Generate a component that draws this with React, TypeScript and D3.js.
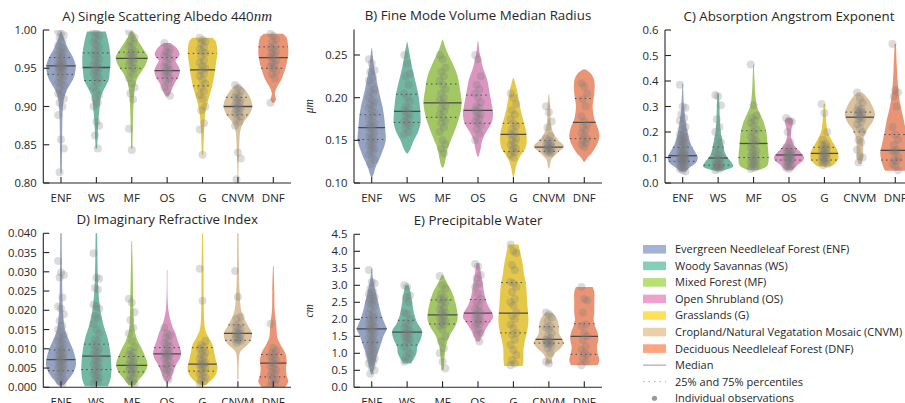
import React from "react";
import * as d3 from "d3";

// ---------------- data ----------------
const CATEGORIES = ["ENF", "WS", "MF", "OS", "G", "CNVM", "DNF"];
const VIOLIN_COLORS = ["#95a3c3", "#71b7a1", "#a2c764", "#db96c0", "#e5c849", "#dbc29e", "#e99575"];
const LEGEND_COLORS = ["#8da0cb", "#66c2a5", "#a6d854", "#e78ac3", "#ffd92f", "#e5c494", "#fc8d62"];
const LEGEND_LABELS = [
  "Evergreen Needleleaf Forest (ENF)",
  "Woody Savannas (WS)",
  "Mixed Forest (MF)",
  "Open Shrubland (OS)",
  "Grasslands (G)",
  "Cropland/Natural Vegatation Mosaic (CNVM)",
  "Deciduous Needleleaf Forest (DNF)",
];
const LEGEND_EXTRA = ["Median", "25% and 75% percentiles", "Individual observations"];

// A) Single Scattering Albedo 440nm
const A_TICKS = [0.8, 0.85, 0.9, 0.95, 1.0];
const A_MEDIAN = [0.953, 0.951, 0.963, 0.947, 0.948, 0.9, 0.964];
const A_Q1 = [0.942, 0.934, 0.95, 0.937, 0.927, 0.889, 0.95];
const A_Q3 = [0.964, 0.97, 0.971, 0.964, 0.9695, 0.912, 0.978];
const A_PROFILES = [
  [[0.998, 1], [0.99, 8], [0.975, 22], [0.965, 35], [0.953, 44], [0.94, 40], [0.93, 29], [0.92, 16], [0.91, 9], [0.9, 6], [0.88, 4], [0.86, 3.5], [0.84, 3], [0.82, 2.5], [0.812, 1.5]],
  [[0.998, 28], [0.99, 33], [0.98, 38], [0.965, 42], [0.955, 42], [0.945, 40], [0.935, 37], [0.925, 26], [0.915, 15], [0.9, 10], [0.88, 6], [0.86, 4], [0.845, 2]],
  [[0.998, 3], [0.992, 10], [0.985, 20], [0.975, 35], [0.965, 48], [0.955, 42], [0.945, 28], [0.935, 15], [0.92, 8], [0.9, 5], [0.87, 3], [0.845, 2]],
  [[0.983, 10], [0.978, 25], [0.972, 35], [0.967, 37], [0.96, 25], [0.954, 32], [0.948, 38], [0.94, 35], [0.93, 22], [0.922, 14], [0.913, 4]],
  [[0.99, 30], [0.985, 40], [0.97, 44], [0.955, 40], [0.94, 35], [0.925, 28], [0.91, 18], [0.895, 10], [0.88, 6], [0.86, 4], [0.837, 2]],
  [[0.928, 3], [0.925, 15], [0.92, 25], [0.91, 38], [0.9, 43], [0.89, 35], [0.88, 18], [0.87, 8], [0.86, 5], [0.85, 4], [0.835, 3], [0.82, 2], [0.805, 1]],
  [[0.995, 28], [0.99, 40], [0.98, 44], [0.97, 45], [0.96, 42], [0.948, 35], [0.935, 24], [0.926, 12], [0.917, 4.5], [0.909, 8], [0.905, 3]],
];
const A_OBS = [
  [0.998, 0.995, 0.993, 0.99, 0.985, 0.98, 0.977, 0.975, 0.972, 0.97, 0.968, 0.966, 0.964, 0.962, 0.96, 0.958, 0.956, 0.955, 0.954, 0.953, 0.952, 0.951, 0.95, 0.948, 0.946, 0.944, 0.942, 0.94, 0.938, 0.935, 0.932, 0.93, 0.927, 0.924, 0.92, 0.917, 0.914, 0.91, 0.905, 0.9, 0.889, 0.857, 0.845, 0.814],
  [0.998, 0.996, 0.993, 0.99, 0.987, 0.984, 0.98, 0.977, 0.974, 0.97, 0.968, 0.965, 0.962, 0.96, 0.957, 0.955, 0.952, 0.95, 0.948, 0.945, 0.943, 0.94, 0.937, 0.934, 0.93, 0.925, 0.92, 0.915, 0.91, 0.905, 0.9, 0.88, 0.875, 0.862, 0.845],
  [0.998, 0.993, 0.99, 0.985, 0.982, 0.978, 0.975, 0.972, 0.97, 0.968, 0.966, 0.964, 0.962, 0.96, 0.958, 0.955, 0.952, 0.95, 0.946, 0.942, 0.937, 0.93, 0.925, 0.917, 0.909, 0.871, 0.843],
  [0.983, 0.978, 0.975, 0.972, 0.97, 0.967, 0.965, 0.962, 0.958, 0.955, 0.952, 0.95, 0.948, 0.946, 0.944, 0.942, 0.94, 0.937, 0.934, 0.93, 0.925, 0.92, 0.914],
  [0.99, 0.987, 0.985, 0.982, 0.978, 0.975, 0.972, 0.97, 0.965, 0.96, 0.957, 0.953, 0.95, 0.947, 0.943, 0.94, 0.935, 0.93, 0.925, 0.92, 0.915, 0.91, 0.9, 0.895, 0.878, 0.87, 0.837],
  [0.928, 0.925, 0.92, 0.917, 0.914, 0.912, 0.91, 0.908, 0.906, 0.904, 0.902, 0.9, 0.898, 0.896, 0.894, 0.892, 0.89, 0.887, 0.884, 0.88, 0.875, 0.84, 0.832, 0.805],
  [0.995, 0.992, 0.988, 0.985, 0.98, 0.977, 0.975, 0.972, 0.97, 0.967, 0.965, 0.963, 0.96, 0.957, 0.955, 0.952, 0.95, 0.946, 0.942, 0.937, 0.905],
];

// B) Fine Mode Volume Median Radius
const B_TICKS = [0.1, 0.15, 0.2, 0.25];
const B_MEDIAN = [0.165, 0.184, 0.194, 0.185, 0.157, 0.142, 0.171];
const B_Q1 = [0.151, 0.171, 0.177, 0.17, 0.137, 0.137, 0.152];
const B_Q3 = [0.18, 0.204, 0.216, 0.203, 0.17, 0.15, 0.199];
const B_PROFILES = [
  [[0.258, 1], [0.24, 6], [0.23, 10], [0.21, 20], [0.2, 26], [0.19, 32], [0.175, 38], [0.165, 40], [0.15, 42], [0.14, 35], [0.13, 25], [0.12, 13], [0.11, 5], [0.107, 2]],
  [[0.265, 1], [0.25, 8], [0.235, 15], [0.22, 24], [0.205, 33], [0.19, 38], [0.18, 40], [0.17, 40], [0.16, 33], [0.15, 20], [0.14, 10], [0.135, 3]],
  [[0.268, 1], [0.255, 12], [0.24, 30], [0.225, 45], [0.21, 52], [0.195, 57], [0.18, 52], [0.165, 40], [0.15, 25], [0.14, 15], [0.13, 10], [0.12, 4], [0.118, 1]],
  [[0.266, 1], [0.25, 6], [0.235, 15], [0.22, 28], [0.205, 35], [0.19, 42], [0.18, 45], [0.17, 40], [0.16, 25], [0.15, 13], [0.14, 8], [0.131, 2]],
  [[0.223, 1], [0.21, 10], [0.2, 15], [0.185, 22], [0.17, 32], [0.16, 38], [0.15, 40], [0.14, 35], [0.13, 18], [0.12, 8], [0.11, 3], [0.107, 1]],
  [[0.204, 1], [0.19, 4], [0.17, 6], [0.16, 12], [0.15, 28], [0.143, 45], [0.135, 25], [0.128, 8], [0.12, 3], [0.117, 1]],
  [[0.233, 5], [0.228, 20], [0.22, 30], [0.205, 30], [0.19, 25], [0.175, 30], [0.165, 40], [0.155, 45], [0.145, 38], [0.135, 22], [0.13, 10], [0.125, 2]],
];
const B_OBS = [
  [0.245, 0.24, 0.232, 0.23, 0.224, 0.22, 0.215, 0.21, 0.207, 0.205, 0.2, 0.197, 0.195, 0.192, 0.19, 0.188, 0.185, 0.182, 0.18, 0.178, 0.175, 0.172, 0.17, 0.168, 0.166, 0.165, 0.163, 0.16, 0.158, 0.156, 0.154, 0.152, 0.15, 0.148, 0.146, 0.144, 0.142, 0.14, 0.138, 0.136, 0.133, 0.13, 0.127, 0.122],
  [0.25, 0.24, 0.228, 0.225, 0.215, 0.205, 0.2, 0.196, 0.19, 0.188, 0.185, 0.182, 0.18, 0.178, 0.175, 0.172, 0.17, 0.168, 0.165, 0.16, 0.157],
  [0.25, 0.245, 0.235, 0.23, 0.225, 0.22, 0.215, 0.21, 0.205, 0.2, 0.197, 0.194, 0.19, 0.187, 0.184, 0.18, 0.177, 0.173, 0.17, 0.165, 0.16, 0.15, 0.145, 0.14, 0.135],
  [0.25, 0.245, 0.225, 0.215, 0.21, 0.205, 0.2, 0.195, 0.19, 0.188, 0.185, 0.182, 0.18, 0.178, 0.175, 0.172, 0.17, 0.167, 0.163, 0.158, 0.15],
  [0.205, 0.2, 0.193, 0.185, 0.18, 0.175, 0.17, 0.167, 0.163, 0.16, 0.157, 0.155, 0.152, 0.15, 0.147, 0.145, 0.142, 0.14, 0.138, 0.136, 0.133, 0.13],
  [0.19, 0.183, 0.172, 0.165, 0.155, 0.152, 0.15, 0.148, 0.146, 0.145, 0.144, 0.143, 0.142, 0.141, 0.14, 0.139, 0.138, 0.137, 0.136, 0.135],
  [0.217, 0.213, 0.205, 0.198, 0.19, 0.178, 0.172, 0.168, 0.165, 0.162, 0.158, 0.155, 0.152, 0.15, 0.147, 0.145, 0.142],
];

// C) Absorption Angstrom Exponent
const C_TICKS = [0, 0.1, 0.2, 0.3, 0.4, 0.5, 0.6];
const C_MEDIAN = [0.107, 0.098, 0.155, 0.11, 0.116, 0.258, 0.128];
const C_Q1 = [0.085, 0.07, 0.1, 0.09, 0.09, 0.2, 0.09];
const C_Q3 = [0.14, 0.141, 0.205, 0.135, 0.14, 0.278, 0.19];
const C_PROFILES = [
  [[0.39, 1], [0.3, 4], [0.25, 8], [0.2, 14], [0.15, 25], [0.12, 38], [0.1, 45], [0.08, 40], [0.06, 20], [0.045, 8]],
  [[0.35, 2], [0.3, 4], [0.25, 5], [0.2, 8], [0.15, 15], [0.12, 20], [0.1, 28], [0.08, 40], [0.065, 45], [0.055, 30], [0.048, 10]],
  [[0.465, 1], [0.4, 3], [0.35, 5], [0.3, 10], [0.27, 20], [0.24, 30], [0.2, 38], [0.15, 42], [0.1, 45], [0.07, 42], [0.055, 25], [0.05, 10]],
  [[0.255, 6], [0.245, 13], [0.235, 12], [0.22, 9], [0.2, 6], [0.17, 8], [0.14, 20], [0.12, 35], [0.1, 45], [0.085, 40], [0.07, 25], [0.055, 15], [0.05, 8]],
  [[0.31, 2], [0.25, 5], [0.2, 10], [0.16, 25], [0.13, 38], [0.11, 42], [0.09, 40], [0.075, 30], [0.065, 20]],
  [[0.355, 8], [0.33, 25], [0.3, 38], [0.27, 45], [0.24, 38], [0.21, 22], [0.18, 12], [0.15, 10], [0.12, 10], [0.09, 8], [0.075, 4]],
  [[0.545, 2], [0.45, 5], [0.4, 7], [0.35, 10], [0.3, 16], [0.25, 25], [0.2, 32], [0.15, 40], [0.12, 45], [0.09, 42], [0.06, 35], [0.048, 30]],
];
const C_OBS = [
  [0.385, 0.3, 0.295, 0.27, 0.255, 0.245, 0.23, 0.22, 0.21, 0.2, 0.19, 0.185, 0.18, 0.175, 0.17, 0.165, 0.16, 0.155, 0.15, 0.145, 0.14, 0.135, 0.13, 0.125, 0.12, 0.117, 0.114, 0.11, 0.108, 0.105, 0.102, 0.1, 0.097, 0.095, 0.092, 0.09, 0.087, 0.085, 0.082, 0.08, 0.077, 0.074, 0.07, 0.065, 0.06, 0.055, 0.05, 0.045],
  [0.345, 0.34, 0.305, 0.25, 0.22, 0.2, 0.175, 0.16, 0.145, 0.13, 0.12, 0.11, 0.1, 0.095, 0.09, 0.085, 0.08, 0.075, 0.072, 0.07, 0.068, 0.065, 0.062, 0.06, 0.055, 0.05],
  [0.465, 0.305, 0.265, 0.255, 0.245, 0.235, 0.225, 0.21, 0.2, 0.19, 0.18, 0.17, 0.165, 0.155, 0.15, 0.14, 0.13, 0.125, 0.12, 0.11, 0.105, 0.1, 0.095, 0.09, 0.085, 0.08, 0.075, 0.07, 0.065, 0.06, 0.055],
  [0.255, 0.245, 0.24, 0.2, 0.16, 0.14, 0.135, 0.13, 0.125, 0.12, 0.115, 0.112, 0.11, 0.107, 0.105, 0.1, 0.097, 0.095, 0.092, 0.09, 0.085, 0.08, 0.075, 0.07, 0.065, 0.06, 0.055],
  [0.31, 0.275, 0.2, 0.17, 0.155, 0.15, 0.145, 0.14, 0.135, 0.13, 0.125, 0.12, 0.118, 0.115, 0.11, 0.105, 0.1, 0.097, 0.095, 0.09, 0.085, 0.08, 0.075, 0.07],
  [0.355, 0.33, 0.315, 0.3, 0.29, 0.285, 0.28, 0.277, 0.275, 0.27, 0.265, 0.26, 0.255, 0.25, 0.24, 0.23, 0.215, 0.2, 0.17, 0.16, 0.13, 0.105, 0.1, 0.08],
  [0.545, 0.365, 0.355, 0.34, 0.3, 0.22, 0.19, 0.17, 0.15, 0.13, 0.125, 0.12, 0.1, 0.09, 0.085, 0.075, 0.065, 0.05],
];

// D) Imaginary Refractive Index
const D_TICKS = [0, 0.005, 0.01, 0.015, 0.02, 0.025, 0.03, 0.035, 0.04];
const D_MEDIAN = [0.0072, 0.0081, 0.0057, 0.0087, 0.006, 0.014, 0.0063];
const D_Q1 = [0.0043, 0.0046, 0.004, 0.0055, 0.0042, 0.0122, 0.0027];
const D_Q3 = [0.0097, 0.0112, 0.008, 0.0103, 0.0103, 0.0162, 0.0085];
const D_PROFILES = [
  [[0.042, 2], [0.03, 3], [0.02, 6], [0.015, 12], [0.012, 25], [0.01, 35], [0.008, 42], [0.006, 45], [0.004, 38], [0.002, 22], [0.0005, 8]],
  [[0.042, 2], [0.03, 4], [0.025, 6], [0.02, 12], [0.016, 22], [0.013, 33], [0.01, 40], [0.007, 44], [0.004, 45], [0.002, 42], [0.0003, 35]],
  [[0.038, 1], [0.03, 3], [0.02, 5], [0.015, 8], [0.012, 18], [0.01, 30], [0.008, 40], [0.006, 47], [0.004, 40], [0.002, 22], [0.0005, 10]],
  [[0.0305, 1], [0.02, 4], [0.016, 15], [0.014, 25], [0.012, 32], [0.0105, 38], [0.009, 42], [0.0075, 38], [0.006, 28], [0.004, 18], [0.002, 10], [0.0015, 5]],
  [[0.042, 1], [0.03, 3], [0.02, 4], [0.015, 8], [0.013, 18], [0.011, 30], [0.009, 35], [0.007, 40], [0.005, 45], [0.003, 38], [0.0015, 22], [0.0005, 8]],
  [[0.042, 2], [0.03, 3], [0.025, 5], [0.02, 10], [0.018, 18], [0.016, 30], [0.014, 42], [0.012, 38], [0.011, 28], [0.01, 15], [0.009, 6], [0.007, 3], [0.005, 2], [0.002, 2]],
  [[0.0315, 1], [0.025, 3], [0.02, 4], [0.017, 8], [0.015, 10], [0.013, 12], [0.011, 22], [0.009, 35], [0.007, 40], [0.005, 38], [0.003, 40], [0.0015, 45], [0.0, 35]],
];
const D_OBS = [
  [0.0328, 0.0298, 0.0292, 0.0285, 0.0233, 0.021, 0.0205, 0.019, 0.0172, 0.016, 0.015, 0.0143, 0.0135, 0.013, 0.0125, 0.012, 0.0115, 0.011, 0.0105, 0.01, 0.0097, 0.0094, 0.009, 0.0087, 0.0084, 0.008, 0.0077, 0.0074, 0.0072, 0.007, 0.0067, 0.0064, 0.006, 0.0057, 0.0054, 0.005, 0.0047, 0.0044, 0.004, 0.0035, 0.003, 0.0025, 0.002, 0.0015, 0.001],
  [0.0348, 0.0285, 0.0282, 0.0258, 0.0254, 0.0215, 0.021, 0.0205, 0.0185, 0.018, 0.0165, 0.015, 0.014, 0.0125, 0.012, 0.011, 0.0105, 0.01, 0.0095, 0.009, 0.0085, 0.008, 0.0075, 0.007, 0.0065, 0.006, 0.0055, 0.005, 0.0045, 0.004, 0.0035, 0.003, 0.0025, 0.002, 0.0015, 0.001],
  [0.023, 0.022, 0.0195, 0.0175, 0.0155, 0.014, 0.012, 0.0105, 0.0095, 0.009, 0.0085, 0.008, 0.0075, 0.007, 0.0065, 0.006, 0.0057, 0.0055, 0.005, 0.0047, 0.0045, 0.004, 0.0035, 0.003, 0.0025, 0.002, 0.0015, 0.001],
  [0.0155, 0.014, 0.0135, 0.013, 0.012, 0.0115, 0.011, 0.0105, 0.01, 0.0095, 0.009, 0.0088, 0.0085, 0.0082, 0.008, 0.0075, 0.007, 0.0065, 0.006, 0.0055, 0.005, 0.0045, 0.004, 0.0035, 0.002],
  [0.0308, 0.0225, 0.012, 0.011, 0.0105, 0.01, 0.0095, 0.009, 0.0085, 0.008, 0.0075, 0.007, 0.0065, 0.0062, 0.006, 0.0058, 0.0055, 0.005, 0.0045, 0.004, 0.0035, 0.003, 0.0025, 0.002, 0.0015, 0.001],
  [0.0302, 0.0235, 0.0183, 0.0178, 0.0165, 0.016, 0.0155, 0.015, 0.0145, 0.0142, 0.014, 0.0138, 0.0135, 0.013, 0.0127, 0.0125, 0.0122, 0.012, 0.0115],
  [0.0165, 0.0102, 0.0095, 0.009, 0.0085, 0.008, 0.0075, 0.007, 0.0065, 0.006, 0.0055, 0.005, 0.0045, 0.004, 0.0035, 0.003, 0.0025, 0.002, 0.0015, 0.001, 0.0005],
];

// E) Precipitable Water
const E_TICKS = [0, 0.5, 1, 1.5, 2, 2.5, 3, 3.5, 4, 4.5];
const E_MEDIAN = [1.72, 1.62, 2.13, 2.18, 2.18, 1.41, 1.5];
const E_Q1 = [1.32, 1.24, 1.86, 1.93, 1.6, 1.3, 0.97];
const E_Q3 = [2.05, 1.97, 2.57, 2.58, 3.08, 1.78, 1.87];
const E_PROFILES = [
  [[3.5, 1], [3.2, 4], [3.0, 8], [2.7, 15], [2.4, 22], [2.1, 30], [1.85, 40], [1.72, 45], [1.5, 35], [1.2, 25], [0.9, 15], [0.6, 8], [0.38, 2]],
  [[3.0, 5], [2.8, 10], [2.5, 15], [2.2, 20], [1.9, 30], [1.65, 45], [1.4, 40], [1.2, 30], [1.0, 28], [0.8, 18], [0.7, 12]],
  [[3.3, 2], [3.1, 12], [2.8, 28], [2.5, 38], [2.2, 44], [2.0, 45], [1.8, 38], [1.5, 20], [1.2, 10], [0.9, 6], [0.5, 3]],
  [[3.65, 4], [3.3, 10], [3.0, 15], [2.7, 20], [2.4, 30], [2.2, 42], [2.05, 45], [1.9, 35], [1.7, 22], [1.5, 12], [1.35, 6]],
  [[4.2, 15], [3.9, 22], [3.6, 28], [3.3, 32], [3.0, 38], [2.7, 40], [2.4, 42], [2.0, 45], [1.7, 42], [1.4, 35], [1.1, 30], [0.9, 30], [0.63, 28]],
  [[2.2, 10], [2.05, 22], [1.9, 28], [1.75, 30], [1.6, 30], [1.45, 38], [1.3, 45], [1.15, 35], [1.0, 18], [0.85, 10], [0.7, 10]],
  [[2.95, 25], [2.8, 30], [2.5, 30], [2.2, 30], [2.0, 28], [1.8, 32], [1.6, 40], [1.4, 42], [1.2, 38], [1.0, 40], [0.8, 45], [0.65, 40]],
];
const E_OBS = [
  [3.45, 3.1, 3.05, 2.9, 2.8, 2.75, 2.7, 2.65, 2.6, 2.55, 2.5, 2.45, 2.4, 2.3, 2.2, 2.15, 2.1, 2.05, 2.0, 1.95, 1.9, 1.85, 1.8, 1.75, 1.72, 1.7, 1.65, 1.6, 1.55, 1.5, 1.45, 1.4, 1.35, 1.3, 1.25, 1.2, 1.15, 1.1, 1.05, 1.0, 0.95, 0.9, 0.85, 0.8, 0.75, 0.7, 0.6, 0.5, 0.4],
  [3.0, 2.95, 2.7, 2.65, 2.5, 2.2, 2.15, 2.0, 1.9, 1.85, 1.75, 1.7, 1.65, 1.6, 1.55, 1.5, 1.45, 1.4, 1.35, 1.3, 1.2, 1.1, 1.0, 0.9, 0.85, 0.75],
  [3.27, 3.0, 2.9, 2.75, 2.65, 2.6, 2.55, 2.5, 2.45, 2.35, 2.3, 2.25, 2.2, 2.15, 2.1, 2.05, 2.0, 1.95, 1.9, 1.85, 1.8, 1.7, 1.5, 1.35, 1.15, 1.0, 0.75, 0.55],
  [3.63, 3.55, 3.3, 3.2, 3.05, 2.95, 2.75, 2.6, 2.5, 2.4, 2.3, 2.25, 2.2, 2.15, 2.1, 2.05, 2.0, 1.95, 1.9, 1.85, 1.8, 1.7, 1.6, 1.55, 1.35],
  [4.2, 4.0, 3.95, 3.6, 3.45, 3.1, 3.05, 2.95, 2.8, 2.6, 2.5, 2.4, 2.2, 2.1, 2.0, 1.85, 1.75, 1.6, 1.55, 1.4, 1.25, 1.1, 0.95, 0.8, 0.7, 0.65],
  [2.2, 2.15, 2.05, 1.95, 1.8, 1.75, 1.7, 1.6, 1.5, 1.45, 1.4, 1.38, 1.35, 1.32, 1.3, 1.28, 1.25, 1.2, 1.15, 1.0, 0.75, 0.7],
  [2.95, 2.6, 2.55, 2.2, 1.85, 1.8, 1.6, 1.5, 1.4, 1.2, 1.1, 1.0, 0.95, 0.85, 0.75, 0.65],
];

// ---------------- layout ----------------
const FONT = "'Open Sans', 'Noto Sans', sans-serif";
const AXIS_COLOR = "#262626";
const INNER_COLOR = "#4a4a4a";

type Panel = {
  id: string;
  title: string;
  math?: string;
  ylabel?: string;
  ticks: number[];
  fmt: string;
  domain: [number, number];
  left: number;
  right: number;
  top: number;
  bottom: number;
  profiles: number[][][];
  medians: number[];
  q1: number[];
  q3: number[];
  obs: number[][];
};

const PANELS: Panel[] = [
  { id: "A", title: "A) Single Scattering Albedo 440", math: "nm", ticks: A_TICKS, fmt: ".2f", domain: [0.8, 1.0], left: 43.3, right: 291, top: 30, bottom: 183, profiles: A_PROFILES, medians: A_MEDIAN, q1: A_Q1, q3: A_Q3, obs: A_OBS },
  { id: "B", title: "B) Fine Mode Volume Median Radius", ylabel: "\u03bcm", ticks: B_TICKS, fmt: ".2f", domain: [0.1, 0.28], left: 354, right: 602, top: 29.4, bottom: 183, profiles: B_PROFILES, medians: B_MEDIAN, q1: B_Q1, q3: B_Q3, obs: B_OBS },
  { id: "C", title: "C) Absorption Angstrom Exponent", ticks: C_TICKS, fmt: ".1f", domain: [0, 0.6], left: 665, right: 913, top: 30, bottom: 183, profiles: C_PROFILES, medians: C_MEDIAN, q1: C_Q1, q3: C_Q3, obs: C_OBS },
  { id: "D", title: "D) Imaginary Refractive Index", ticks: D_TICKS, fmt: ".3f", domain: [0, 0.04], left: 43.3, right: 291, top: 233.3, bottom: 387.3, profiles: D_PROFILES, medians: D_MEDIAN, q1: D_Q1, q3: D_Q3, obs: D_OBS },
  { id: "E", title: "E) Precipitable Water", ylabel: "cm", ticks: E_TICKS, fmt: ".1f", domain: [0, 4.5], left: 354, right: 602, top: 234.3, bottom: 387.3, profiles: E_PROFILES, medians: E_MEDIAN, q1: E_Q1, q3: E_Q3, obs: E_OBS },
];

function widthAt(profile: number[][], v: number): number {
  const pts = [...profile].sort((a, b) => a[0] - b[0]);
  if (v <= pts[0][0]) return pts[0][1];
  if (v >= pts[pts.length - 1][0]) return pts[pts.length - 1][1];
  for (let i = 1; i < pts.length; i++) {
    if (v <= pts[i][0]) {
      const t = (v - pts[i - 1][0]) / (pts[i][0] - pts[i - 1][0]);
      return pts[i - 1][1] + t * (pts[i][1] - pts[i - 1][1]);
    }
  }
  return 0;
}

function ViolinPanel({ p }: { p: Panel }) {
  const x = d3.scaleBand<string>().domain(CATEGORIES).range([p.left, p.right]);
  const y = d3.scaleLinear().domain(p.domain).range([p.bottom, p.top]);
  const hw = d3.scaleLinear().domain([0, 53]).range([0, x.bandwidth() / 2]);
  const fmt = d3.format(p.fmt);
  const clipId = `clip-${p.id}`;
  const cx = (c: string) => (x(c) as number) + x.bandwidth() / 2;
  const cy = (p.top + p.bottom) / 2;
  const titleX = (p.left + p.right) / 2;
  const titleY = p.top - 9.5;

  return (
    <g>
      <defs>
        <clipPath id={clipId}>
          <rect x={p.left} y={p.top} width={p.right - p.left} height={p.bottom - p.top} />
        </clipPath>
      </defs>
      <g clipPath={`url(#${clipId})`}>
        {CATEGORIES.map((c, i) => {
          const xc = cx(c);
          const area = d3
            .area<number[]>()
            .y((d) => y(d[0]))
            .x0((d) => xc - hw(d[1]))
            .x1((d) => xc + hw(d[1]))
            .curve(d3.curveCatmullRom.alpha(0.5));
          const prof = p.profiles[i];
          const line = (v: number, dashed: boolean, k: string) => {
            const w = hw(widthAt(prof, v));
            return (
              <line
                key={k}
                x1={xc - w}
                x2={xc + w}
                y1={y(v)}
                y2={y(v)}
                stroke={INNER_COLOR}
                strokeWidth={dashed ? 1 : 1.3}
                strokeDasharray={dashed ? "1.6,3.2" : undefined}
              />
            );
          };
          return (
            <g key={c}>
              <path d={area(prof) || ""} fill={VIOLIN_COLORS[i]} stroke="none" />
              {line(p.q1[i], true, "q1")}
              {line(p.q3[i], true, "q3")}
              {line(p.medians[i], false, "m")}
            </g>
          );
        })}
        {CATEGORIES.map((c, i) => {
          const xc = cx(c);
          return (
            <g key={`o-${c}`}>
              {p.obs[i].map((v, j) => (
                <circle
                  key={j}
                  cx={xc + (((j * 7) % 5) - 2) * 1.4}
                  cy={y(v)}
                  r={4}
                  fill="#7a7a7a"
                  fillOpacity={0.27}
                />
              ))}
            </g>
          );
        })}
      </g>
      {/* axes */}
      <line x1={p.left} x2={p.left} y1={p.top} y2={p.bottom} stroke={AXIS_COLOR} strokeWidth={1.1} />
      <line x1={p.left} x2={p.right} y1={p.bottom} y2={p.bottom} stroke={AXIS_COLOR} strokeWidth={1.1} />
      {p.ticks.map((t) => (
        <g key={`yt-${t}`}>
          <line x1={p.left} x2={p.left + 6} y1={y(t)} y2={y(t)} stroke={AXIS_COLOR} strokeWidth={1.1} />
          <text x={p.left - 6.5} y={y(t)} dy="0.36em" textAnchor="end" fontSize={11.3} fill={AXIS_COLOR} fontFamily={FONT}>
            {fmt(t)}
          </text>
        </g>
      ))}
      {CATEGORIES.map((c) => (
        <g key={`xt-${c}`}>
          <line x1={cx(c)} x2={cx(c)} y1={p.bottom} y2={p.bottom - 6} stroke={AXIS_COLOR} strokeWidth={1.1} />
          <text x={cx(c)} y={p.bottom + 18.5} textAnchor="middle" fontSize={11.5} fill={AXIS_COLOR} fontFamily={FONT}>
            {c}
          </text>
        </g>
      ))}
      <text x={titleX} y={titleY} textAnchor="middle" fontSize={13.3} fill={AXIS_COLOR} fontFamily={FONT}>
        {p.title}
        {p.math ? (
          <tspan fontFamily="'Liberation Serif', serif" fontStyle="italic" fontSize={15}>
            {p.math}
          </tspan>
        ) : null}
      </text>
      {p.ylabel ? (
        <text
          transform={`translate(${p.left - 41},${cy}) rotate(-90)`}
          textAnchor="middle"
          fontSize={11.5}
          fontStyle="italic"
          fill={AXIS_COLOR}
          fontFamily="'Liberation Serif', serif"
        >
          {p.ylabel}
        </text>
      ) : null}
    </g>
  );
}

function Legend() {
  const x0 = 643;
  const y0 = 249.3;
  const step = 16.55;
  const tx = 675;
  return (
    <g fontFamily={FONT} fontSize={11} fill={AXIS_COLOR}>
      {LEGEND_LABELS.map((l, i) => (
        <g key={l}>
          <rect x={x0} y={y0 + i * step - 4.3} width={23} height={8.6} fill={LEGEND_COLORS[i]} fillOpacity={0.8} />
          <text x={tx} y={y0 + i * step} dy="0.36em">
            {l}
          </text>
        </g>
      ))}
      <line x1={x0} x2={x0 + 23} y1={y0 + 7 * step} y2={y0 + 7 * step} stroke="#a8a8a8" strokeWidth={1.2} />
      <text x={tx} y={y0 + 7 * step} dy="0.36em">{LEGEND_EXTRA[0]}</text>
      <line x1={x0} x2={x0 + 23} y1={y0 + 8 * step} y2={y0 + 8 * step} stroke="#a8a8a8" strokeWidth={1} strokeDasharray="1.5,4" />
      <text x={tx} y={y0 + 8 * step} dy="0.36em">{LEGEND_EXTRA[1]}</text>
      <circle cx={x0 + 11.5} cy={y0 + 9 * step} r={2.6} fill="#9a9a9a" />
      <text x={tx} y={y0 + 9 * step} dy="0.36em">{LEGEND_EXTRA[2]}</text>
    </g>
  );
}

export default function App() {
  return (
    <svg
      width={905}
      height={403}
      viewBox="0 0 905 403"
      style={{ position: "absolute", left: 0, top: 0, background: "#fff" }}
    >
      <rect x={0} y={0} width={905} height={403} fill="#fff" />
      {PANELS.map((p) => (
        <ViolinPanel key={p.id} p={p} />
      ))}
      <Legend />
    </svg>
  );
}
